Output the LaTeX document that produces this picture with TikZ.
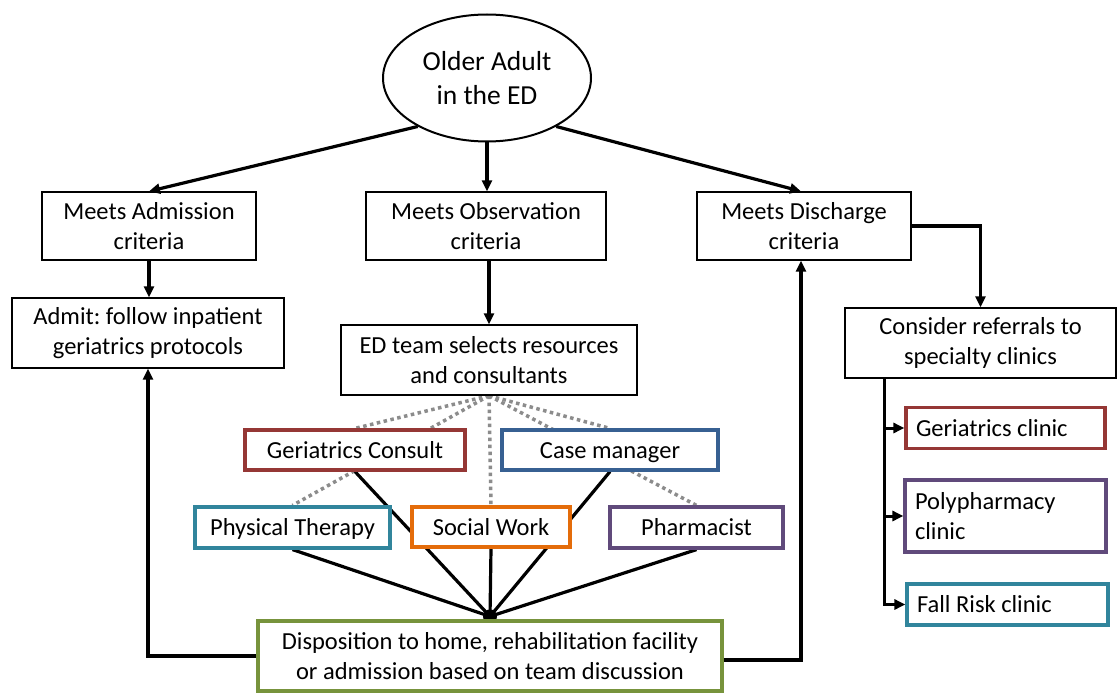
\documentclass[tikz,border=0pt]{standalone}
\usepackage{fontspec}
\setmainfont{Carlito}
\usetikzlibrary{shapes.geometric,arrows.meta,backgrounds,calc}

\definecolor{cRed}{HTML}{953735}
\definecolor{cBlue}{HTML}{376092}
\definecolor{cTeal}{HTML}{31859C}
\definecolor{cOrange}{HTML}{E46C0A}
\definecolor{cPurple}{HTML}{604A7B}
\definecolor{cGreen}{HTML}{77933C}
\definecolor{dotgray}{RGB}{140,140,140}

\newcommand\labelfont{\fontsize{24.5}{30}\selectfont}
\newcommand\titlefont{\fontsize{27.5}{34}\selectfont}
\frenchspacing

\begin{document}
\begin{tikzpicture}[x=1pt,y=-1pt,
  box/.style={draw=black, line width=1.4pt, fill=white, align=center,
              inner sep=0pt, font=\labelfont},
  tagbox/.style={box, line width=3.2pt, draw=#1},
  oneline/.style={text height=20pt, text depth=4pt},
  clinic/.style={tagbox=#1, align=flush left, inner xsep=10pt, inner ysep=0pt},
  arr/.style={line width=3.2pt, -{Triangle[length=11pt,width=10pt]}},
  spoke/.style={line width=3.2pt},
  dotline/.style={draw=dotgray, line width=3.5pt, dash pattern=on 3.5pt off 3.5pt}
]
\useasboundingbox (0,0) rectangle (1119,698);

% entry point
\node[ellipse, draw=black, line width=2pt, fill=white, inner sep=0pt,
      minimum width=208, minimum height=127, align=center, font=\titlefont]
      (older) at (487,78) {Older Adult\\in the ED};

% triage outcomes
\node[box, minimum width=214, minimum height=68] (adm) at (149,226) {Meets Admission\\criteria};
\node[box, minimum width=240, minimum height=68] (obs) at (486,226) {Meets Observation\\criteria};
\node[box, minimum width=214, minimum height=68] (dis) at (804,226) {Meets Discharge\\criteria};

\node[box, minimum width=272, minimum height=70] (admit) at (148,333) {Admit: follow inpatient\\geriatrics protocols};
\node[box, minimum width=296, minimum height=70] (edteam) at (489,360) {ED team selects resources\\and consultants};
\node[box, minimum width=271, minimum height=70] (refer) at (980.5,343) {Consider referrals to\\specialty clinics};

% consultants
\node[tagbox=cRed, oneline, minimum width=220, minimum height=40] (gc) at (355,450) {Geriatrics Consult};
\node[tagbox=cBlue, oneline, minimum width=216, minimum height=40] (cm) at (610,450) {Case manager};
\node[tagbox=cTeal, oneline, minimum width=195, minimum height=41] (pt) at (292.5,527.5) {Physical Therapy};
\node[tagbox=cOrange, oneline, minimum width=158, minimum height=40] (sw) at (491,527) {Social Work};
\node[tagbox=cPurple, oneline, minimum width=173, minimum height=41] (ph) at (696.5,527.5) {Pharmacist};

% disposition
\node[tagbox=cGreen, minimum width=464, minimum height=70] (disp) at (490,656)
  {Disposition to home, rehabilitation facility\\or admission based on team discussion};

% specialty clinics
\node[clinic=cRed, text width=179, minimum height=41] (gclin) at (1005.5,428) {Geriatrics clinic};
\node[clinic=cPurple, text width=181, minimum height=72] (poly) at (1005.5,516) {Polypharmacy\\clinic};
\node[clinic=cTeal, text width=181, minimum height=41] (fall) at (1007.5,604.5) {Fall Risk clinic};

\begin{pgfonlayer}{background}
  \fill[white] (0,0) rectangle (1119,698);

  % resource selection (dotted)
  \foreach \t in {gc,pt,sw,cm,ph}
    \draw[dotline] (edteam.south) -- (\t.north);

  % team feeding into disposition
  \foreach \t in {gc,pt,sw,cm,ph}
    \draw[spoke] (\t.south) -- ($(disp.north)+(0,-3)$);
  \fill ($(disp.north)+(0,-3)$) circle (7);
\end{pgfonlayer}

% flow arrows
\draw[arr] (older.215) -- (adm.north);
\draw[arr] (older.south) -- (older.south |- obs.north);
\draw[arr] (older.325) -- ($(dis.north)+(-3,0)$);
\draw[arr] (adm.south) -- (adm.south |- admit.north);
\draw[arr] (edteam.north |- obs.south) -- (edteam.north);
\draw[arr] (dis.east) -| (refer.north);

\draw[arr] (disp.west) -| (admit.south);
\draw[arr] ($(disp.east)+(0,4)$) -| ($(dis.south)+(-3,0)$);

% referral trunk
\draw[arr, line width=3pt] ($(refer.south west)+(40,0)$) |- (gclin.west);
\draw[arr, line width=3pt] ($(refer.south west)+(40,0)$) |- (poly.west);
\draw[arr, line width=3pt] ($(refer.south west)+(40,0)$) |- (fall.west);
\end{tikzpicture}
\end{document}
